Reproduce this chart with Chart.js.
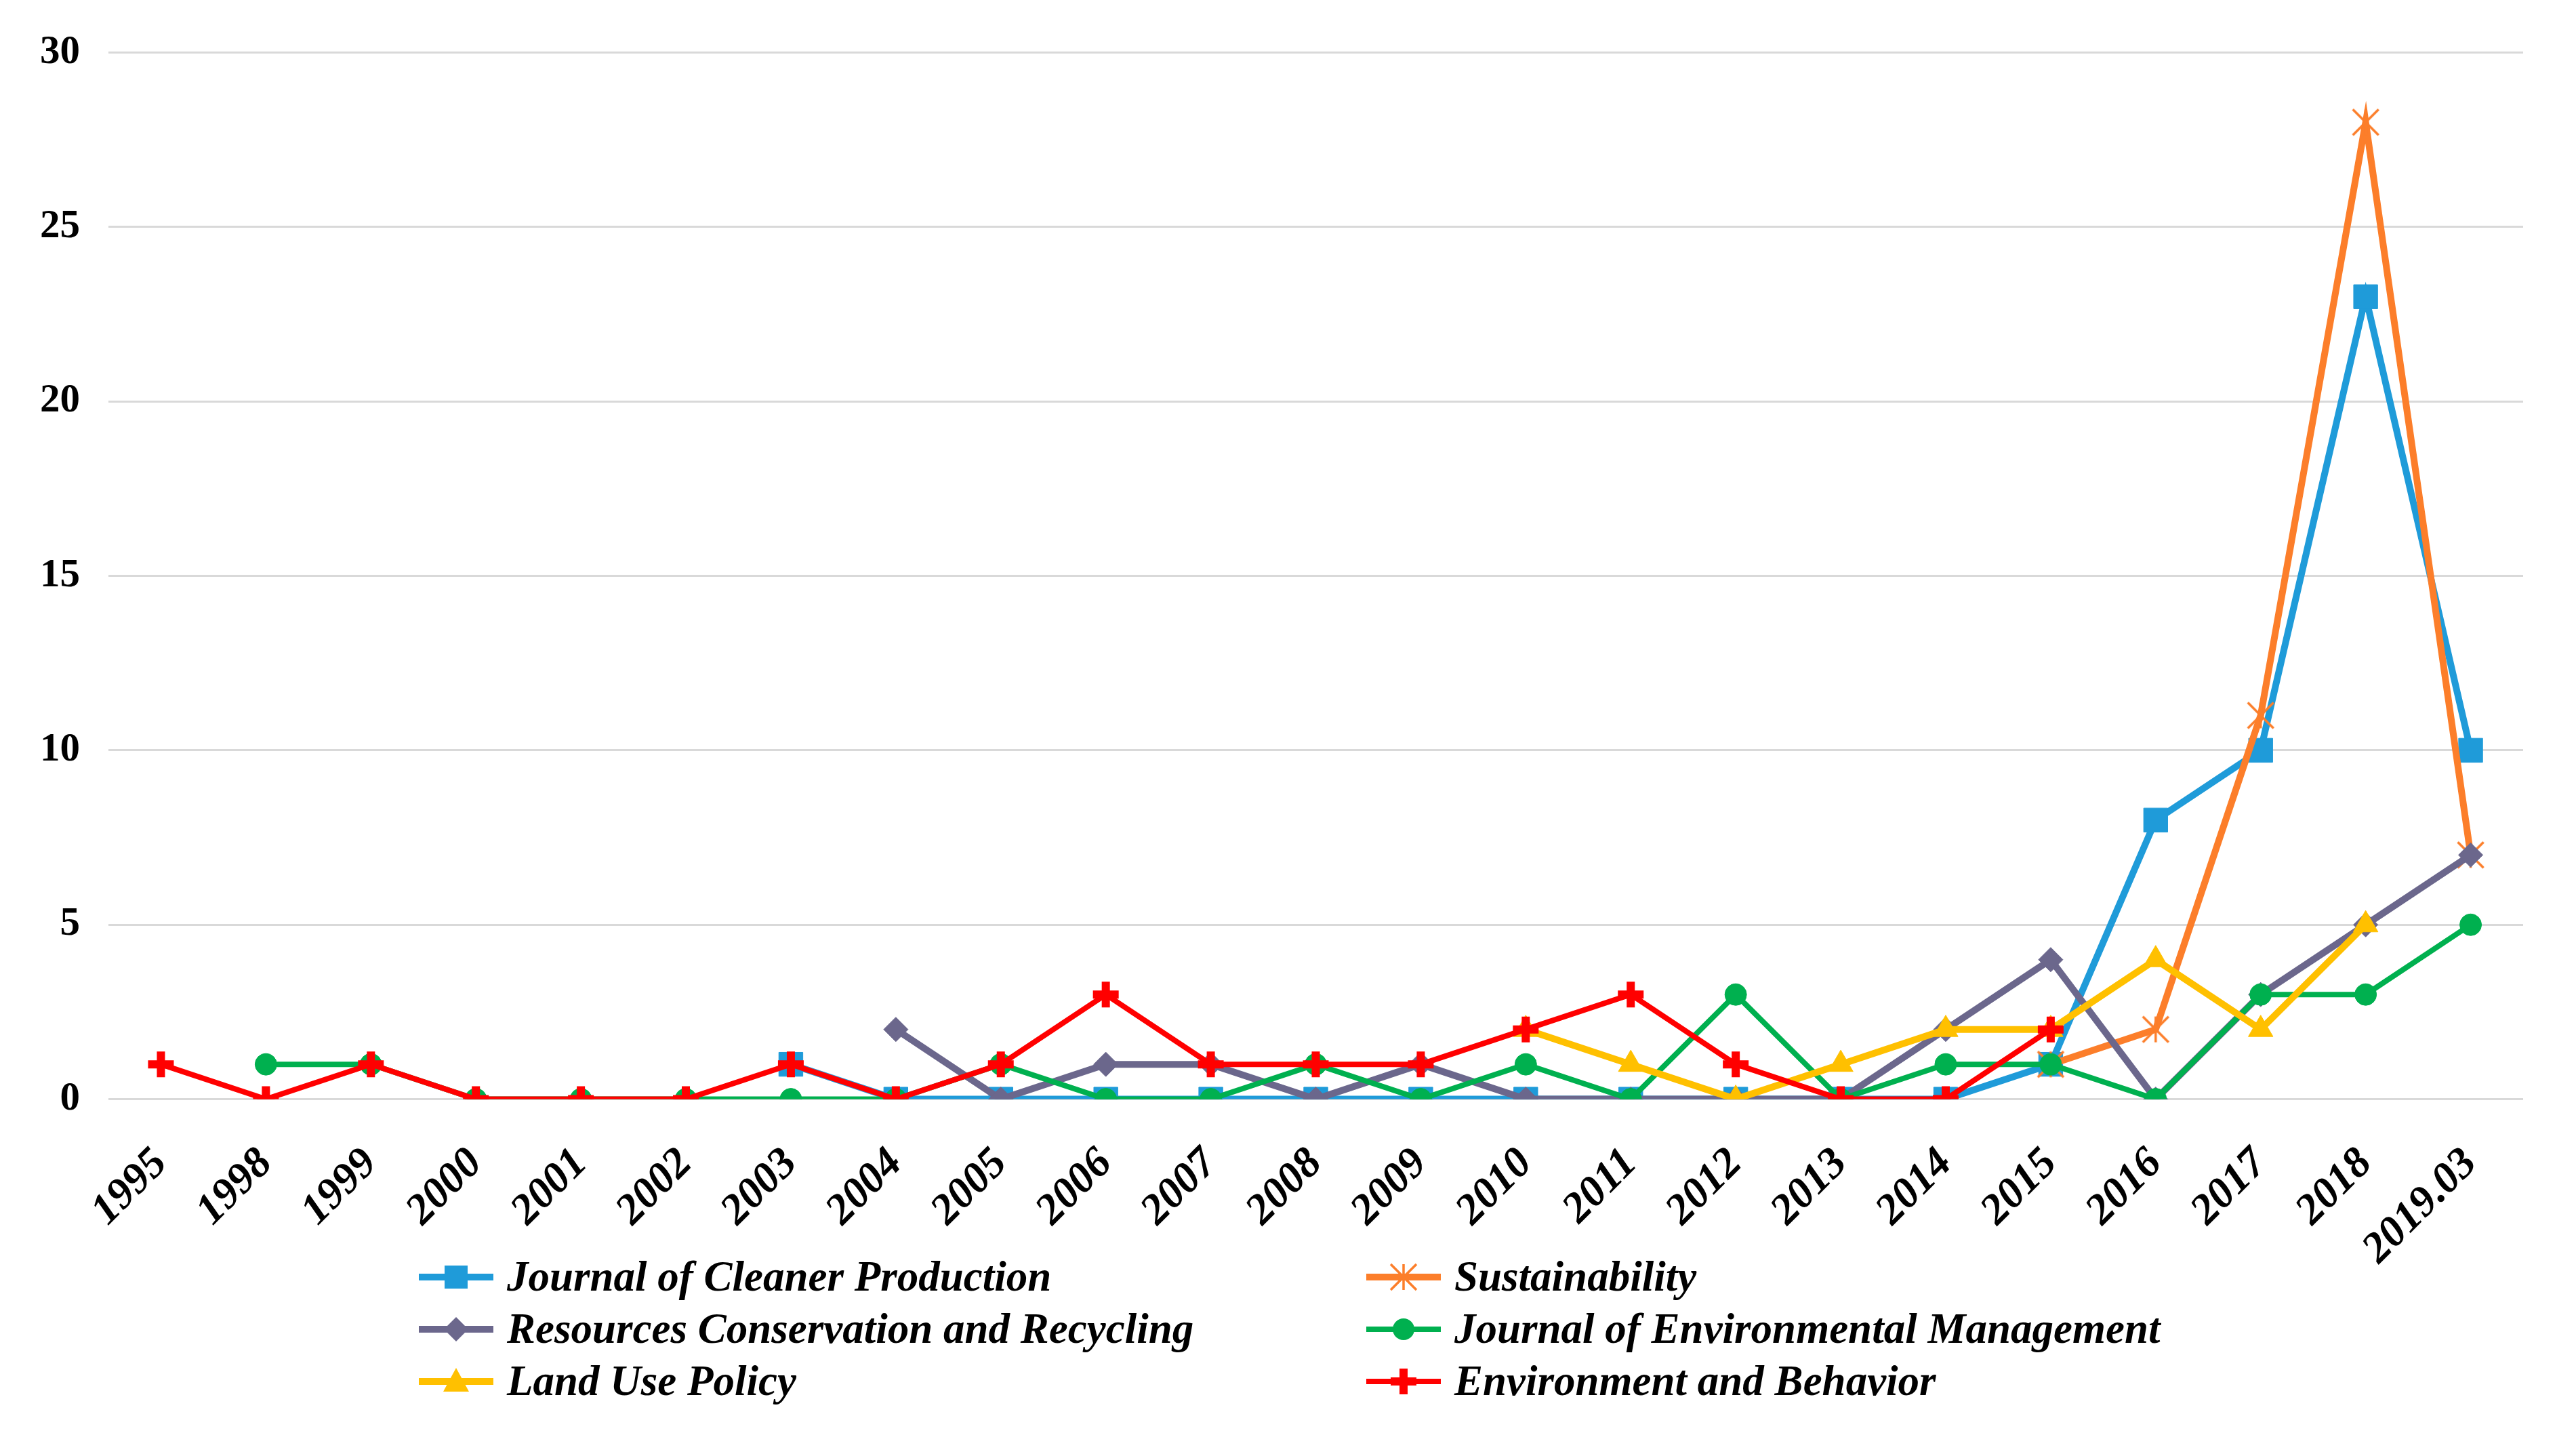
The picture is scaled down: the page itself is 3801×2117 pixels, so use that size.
<!DOCTYPE html>
<html>
<head>
<meta charset="utf-8">
<script src="https://cdn.jsdelivr.net/npm/chart.js@4.4.1/dist/chart.umd.min.js"></script>
<style>
  html, body { margin: 0; padding: 0; background: #fff; }
  #wrap { position: relative; width: 3801px; height: 2117px; overflow: hidden; }
  #chartBox { position: absolute; left: 0; top: 0; width: 3801px; height: 1975px; }
  #legend {
    position: absolute; left: 618px; top: 1845px;
    display: grid; grid-template-columns: 1398px auto; grid-auto-rows: 77px;
  }
  .leg { display: flex; align-items: center; white-space: nowrap;
    font: italic bold 63px "Liberation Serif", "Times New Roman", serif; color: #000; }
  .leg svg { margin-right: 20px; flex: none; }
</style>
</head>
<body>
<div id="wrap">
  <div id="chartBox"><canvas id="chart"></canvas></div>
  <div id="legend"></div>
</div>
<script>
// categories
const years = ["1995", "1998", "1999", "2000", "2001", "2002", "2003", "2004", "2005", "2006", "2007",
  "2008", "2009", "2010", "2011", "2012", "2013", "2014", "2015", "2016", "2017", "2018", "2019.03"];

// papers per journal (null = journal not yet in the series)
const cleanerProduction = [null, null, null, null, null, null, 1, 0, 0, 0, 0, 0, 0, 0, 0, 0, 0, 0, 1, 8, 10, 23, 10];
const sustainability = [null, null, null, null, null, null, null, null, null, null, null, null, null, null, null, null, null, null, 1, 2, 11, 28, 7];
const resourcesRecycling = [null, null, null, null, null, null, null, 2, 0, 1, 1, 0, 1, 0, 0, 0, 0, 2, 4, 0, 3, 5, 7];
const envManagement = [null, 1, 1, 0, 0, 0, 0, 0, 1, 0, 0, 1, 0, 1, 0, 3, 0, 1, 1, 0, 3, 3, 5];
const landUsePolicy = [null, null, null, null, null, null, null, null, null, null, null, null, null, 2, 1, 0, 1, 2, 2, 4, 2, 5, null];
const envBehavior = [1, 0, 1, 0, 0, 0, 1, 0, 1, 3, 1, 1, 1, 2, 3, 1, 0, 0, 2, null, null, null, null];

const yTicks = [0, 5, 10, 15, 20, 25, 30];

const seriesNames = ["Journal of Cleaner Production", "Sustainability", "Resources Conservation and Recycling",
  "Journal of Environmental Management", "Land Use Policy", "Environment and Behavior"];
const seriesData = [cleanerProduction, sustainability, resourcesRecycling, envManagement, landUsePolicy, envBehavior];

const colors = ["#1F9BD9", "#FC7E2A", "#6B678C", "#00B04F", "#FFC000", "#FF0000"];
const markers = ["rect", "asterisk", "rectRot", "circle", "triangle", "cross"];
const lineWidths = [10, 10, 10, 8, 10, 8];
const markerSizes = [25, 19, 18, 16, 21, 19];
const markerBorders = [1, 3.5, 1, 1, 1, 12];

const serif = "'Liberation Serif', 'Times New Roman', serif";

// Excel style asterisk (vertical bar + X), Chart.js "star" has 8 spokes
function asteriskImage(color, r, lw) {
  const c = document.createElement("canvas");
  const s = Math.ceil(2 * r + lw * 2);
  c.width = s; c.height = s;
  const g = c.getContext("2d");
  const m = s / 2;
  g.strokeStyle = color; g.lineWidth = lw; g.lineCap = "butt";
  g.beginPath();
  g.moveTo(m, m - r); g.lineTo(m, m + r);
  g.moveTo(m - r, m - r); g.lineTo(m + r, m + r);
  g.moveTo(m - r, m + r); g.lineTo(m + r, m - r);
  g.stroke();
  return c;
}

const datasets = seriesNames.map((name, i) => ({
  label: name,
  data: seriesData[i],
  borderColor: colors[i],
  backgroundColor: colors[i],
  borderWidth: lineWidths[i],
  pointStyle: markers[i] === "asterisk" ? asteriskImage(colors[i], markerSizes[i], markerBorders[i]) : markers[i],
  pointRadius: markerSizes[i],
  pointBorderWidth: markerBorders[i],
  pointBackgroundColor: colors[i],
  pointBorderColor: colors[i],
  tension: 0,
  order: seriesNames.length - i   // later series drawn on top, like the original
}));

new Chart(document.getElementById("chart"), {
  type: "line",
  data: { labels: years, datasets: datasets },
  options: {
    responsive: true,
    maintainAspectRatio: false,
    animation: false,
    devicePixelRatio: 1,
    layout: { padding: { top: 48, right: 78, left: 17, bottom: 44 } },
    plugins: { legend: { display: false }, tooltip: { enabled: false } },
    scales: {
      x: {
        offset: true,
        grid: { display: false },
        border: { display: false },
        ticks: {
          color: "#000",
          minRotation: 45, maxRotation: 45,
          padding: 50,
          font: { family: serif, size: 64, weight: "bold", style: "italic" }
        }
      },
      y: {
        min: 0, max: 30,
        afterBuildTicks: (axis) => { axis.ticks = yTicks.map(v => ({ value: v })); },
        grid: { color: "#D9D9D9", lineWidth: 3, drawTicks: false },
        border: { display: false },
        ticks: {
          color: "#000",
          padding: 42,
          font: { family: serif, size: 59, weight: "bold" }
        }
      }
    }
  }
});

// legend, two columns like the original
function markerSvg(style, color, lw) {
  let shape = "";
  if (style === "rect") shape = `<rect x="38" y="13" width="34" height="34" fill="${color}"/>`;
  if (style === "asterisk") shape = `<g stroke="${color}" stroke-width="3.5"><line x1="55" y1="11" x2="55" y2="49"/><line x1="36" y1="11" x2="74" y2="49"/><line x1="36" y1="49" x2="74" y2="11"/></g>`;
  if (style === "rectRot") shape = `<polygon points="55,12 73,30 55,48 37,30" fill="${color}"/>`;
  if (style === "circle") shape = `<circle cx="55" cy="30" r="16" fill="${color}"/>`;
  if (style === "triangle") shape = `<polygon points="55,10 74,45 36,45" fill="${color}"/>`;
  if (style === "cross") shape = `<g stroke="${color}" stroke-width="12"><line x1="55" y1="11" x2="55" y2="49"/><line x1="36" y1="30" x2="74" y2="30"/></g>`;
  return `<svg width="110" height="60" viewBox="0 0 110 60"><line x1="0" y1="30" x2="110" y2="30" stroke="${color}" stroke-width="${lw}"/>${shape}</svg>`;
}

const legendBox = document.getElementById("legend");
seriesNames.forEach((name, i) => {
  const item = document.createElement("div");
  item.className = "leg";
  item.innerHTML = markerSvg(markers[i], colors[i], lineWidths[i]) + "<span></span>";
  item.querySelector("span").textContent = name;
  legendBox.appendChild(item);
});
</script>
</body>
</html>
